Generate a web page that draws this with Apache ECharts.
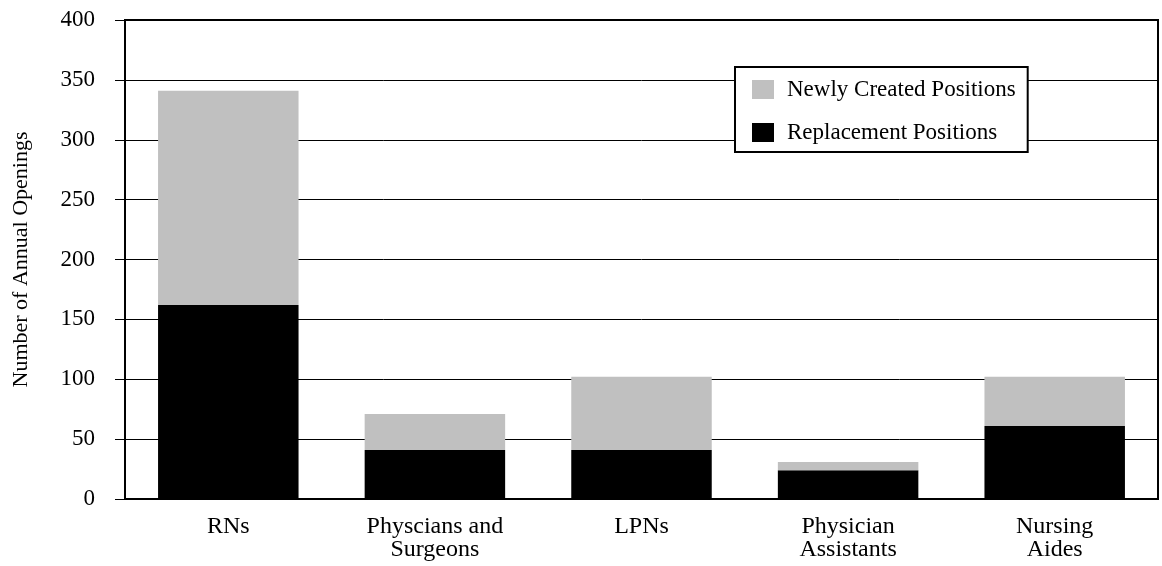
<!DOCTYPE html>
<html><head><meta charset="utf-8">
<script src="https://cdn.jsdelivr.net/npm/echarts@6/dist/echarts.min.js"></script>
<style>html,body{margin:0;padding:0;background:#fff;}#c{width:1162px;height:566px;}</style>
</head><body><div id="c"></div>
<script>
const categories = ['RNs', 'Physcians and\nSurgeons', 'LPNs', 'Physician\nAssistants', 'Nursing\nAides'];
const replacement = [162, 41, 41, 24, 61];
const newlyCreated = [179, 30, 61, 7, 41];
const yTicks = [0, 50, 100, 150, 200, 250, 300, 350, 400];

const font = 'Liberation Serif';
const chart = echarts.init(document.getElementById('c'));
chart.setOption({
  animation: false,
  backgroundColor: '#fff',
  grid: { left: 125, right: 4, top: 20, bottom: 67, outerBoundsMode: 'none', containLabel: false,
          show: true, borderColor: '#000', borderWidth: 2, backgroundColor: 'transparent' },
  legend: {
    orient: 'vertical', left: 735, top: 67,
    data: ['Newly Created Positions', 'Replacement Positions'],
    itemWidth: 22, itemHeight: 19, itemGap: 20,
    padding: [11, 12, 8, 17],
    borderColor: '#000', borderWidth: 2, backgroundColor: '#fff',
    textStyle: { fontFamily: font, fontSize: 23, color: '#000', padding: [0, 0, 0, 8] },
    icon: 'rect'
  },
  xAxis: {
    type: 'category', data: categories,
    axisLine: { show: true, lineStyle: { color: '#000', width: 2 } },
    axisTick: { show: false },
    axisLabel: { fontFamily: font, fontSize: 24, color: '#000', margin: 16, lineHeight: 23 }
  },
  yAxis: {
    type: 'value', min: yTicks[0], max: yTicks[yTicks.length - 1], interval: 50,
    name: 'Number of Annual Openings', nameLocation: 'middle', nameGap: 93,
    nameTextStyle: { fontFamily: font, fontSize: 22, color: '#000' },
    axisLine: { show: true, lineStyle: { color: '#000', width: 2 } },
    axisTick: { show: true, inside: false, length: 10, lineStyle: { color: '#000', width: 1 } },
    axisLabel: { fontFamily: font, fontSize: 23, color: '#000', margin: 30 },
    splitLine: { show: true, lineStyle: { color: '#000', width: 1 } }
  },
  series: [
    { name: 'Replacement Positions', type: 'bar', stack: 'a', data: replacement, barCategoryGap: '32%', itemStyle: { color: '#000' } },
    { name: 'Newly Created Positions', type: 'bar', stack: 'a', data: newlyCreated, barCategoryGap: '32%', itemStyle: { color: '#c0c0c0' } }
  ]
});
</script></body></html>
